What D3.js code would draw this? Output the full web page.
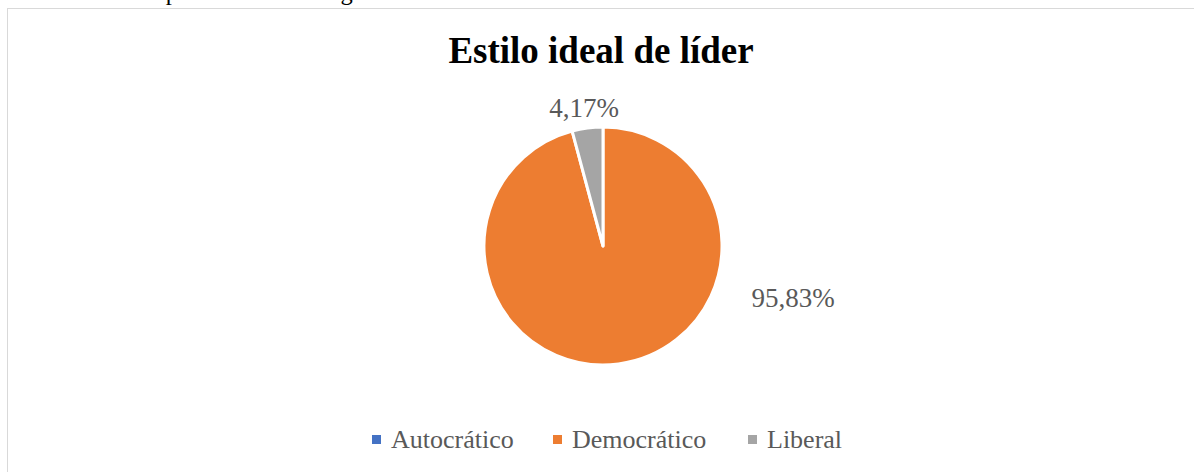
<!DOCTYPE html>
<html lang="es">
<head>
<meta charset="utf-8">
<title>Estilo ideal de líder</title>
<script src="https://cdn.jsdelivr.net/npm/d3@7"></script>
<style>
    html, body { margin: 0; padding: 0; background: #fff; }
    svg { display: block; font-family: "Liberation Serif", "Times New Roman", serif; }
</style>
</head>
<body>
<div id="chart"></div>
<script>
// data
const categories = ["Autocrático", "Democrático", "Liberal"];
const shares = [0, 95.83, 4.17];
const colors = ["#4472C4", "#ED7D31", "#A5A5A5"];

const width = 1194, height = 472;
const center = { x: 603, y: 246 };
const radius = 119;

const svg = d3.select("#chart").append("svg")
    .attr("width", width)
    .attr("height", height);

// bit of the page text above the chart, cut off by the crop
svg.append("text")
    .attr("x", 31)
    .attr("y", 0)
    .attr("font-size", 24.5)
    .attr("fill", "#000")
    .text("de resultados presentados en la gráfica 6.");

// chart area frame (right and bottom edges fall outside the crop)
svg.append("rect")
    .attr("x", 7.5)
    .attr("y", 8.5)
    .attr("width", width)
    .attr("height", height)
    .attr("fill", "#fff")
    .attr("stroke", "#d9d9d9")
    .attr("stroke-width", 1);

svg.append("text")
    .attr("x", 601)
    .attr("y", 63)
    .attr("text-anchor", "middle")
    .attr("font-size", 37)
    .attr("font-weight", "bold")
    .attr("fill", "#000")
    .text("Estilo ideal de líder");

const color = d3.scaleOrdinal().domain(categories).range(colors);

const pie = d3.pie().sort(null).value(d => d.value);
const arcs = pie(categories.map((c, i) => ({ name: c, value: shares[i] })));

const arc = d3.arc().innerRadius(0).outerRadius(radius);

const g = svg.append("g")
    .attr("transform", `translate(${center.x},${center.y})`);

g.selectAll("path.slice")
    .data(arcs.filter(d => d.data.value > 0))
    .enter().append("path")
    .attr("class", "slice")
    .attr("d", arc)
    .attr("fill", d => color(d.data.name))
    .attr("stroke", "#fff")
    .attr("stroke-width", 3)
    .attr("stroke-linejoin", "round");

// data labels: outside end, like the source
const fmt = v => v.toFixed(2).replace(".", ",") + "%";
const labelPos = {
    "Democrático": d => [190, 61],
    "Liberal": d => [-19, -129]
};

g.selectAll("text.label")
    .data(arcs.filter(d => d.data.value > 0))
    .enter().append("text")
    .attr("class", "label")
    .attr("x", d => labelPos[d.data.name](d)[0])
    .attr("y", d => labelPos[d.data.name](d)[1])
    .attr("text-anchor", "middle")
    .attr("font-size", 27)
    .attr("fill", "#595959")
    .text(d => fmt(d.data.value));

// legend
const legendItems = [
    { name: categories[0], x: 372 },
    { name: categories[1], x: 553 },
    { name: categories[2], x: 748 }
];
const legend = svg.append("g").attr("class", "legend");

const item = legend.selectAll("g")
    .data(legendItems)
    .enter().append("g")
    .attr("transform", d => `translate(${d.x},448)`);

item.append("rect")
    .attr("x", 0)
    .attr("y", -13)
    .attr("width", 9)
    .attr("height", 9)
    .attr("fill", d => color(d.name));

item.append("text")
    .attr("x", 19)
    .attr("y", 0)
    .attr("font-size", 26)
    .attr("fill", "#595959")
    .text(d => d.name);
</script>
</body>
</html>
